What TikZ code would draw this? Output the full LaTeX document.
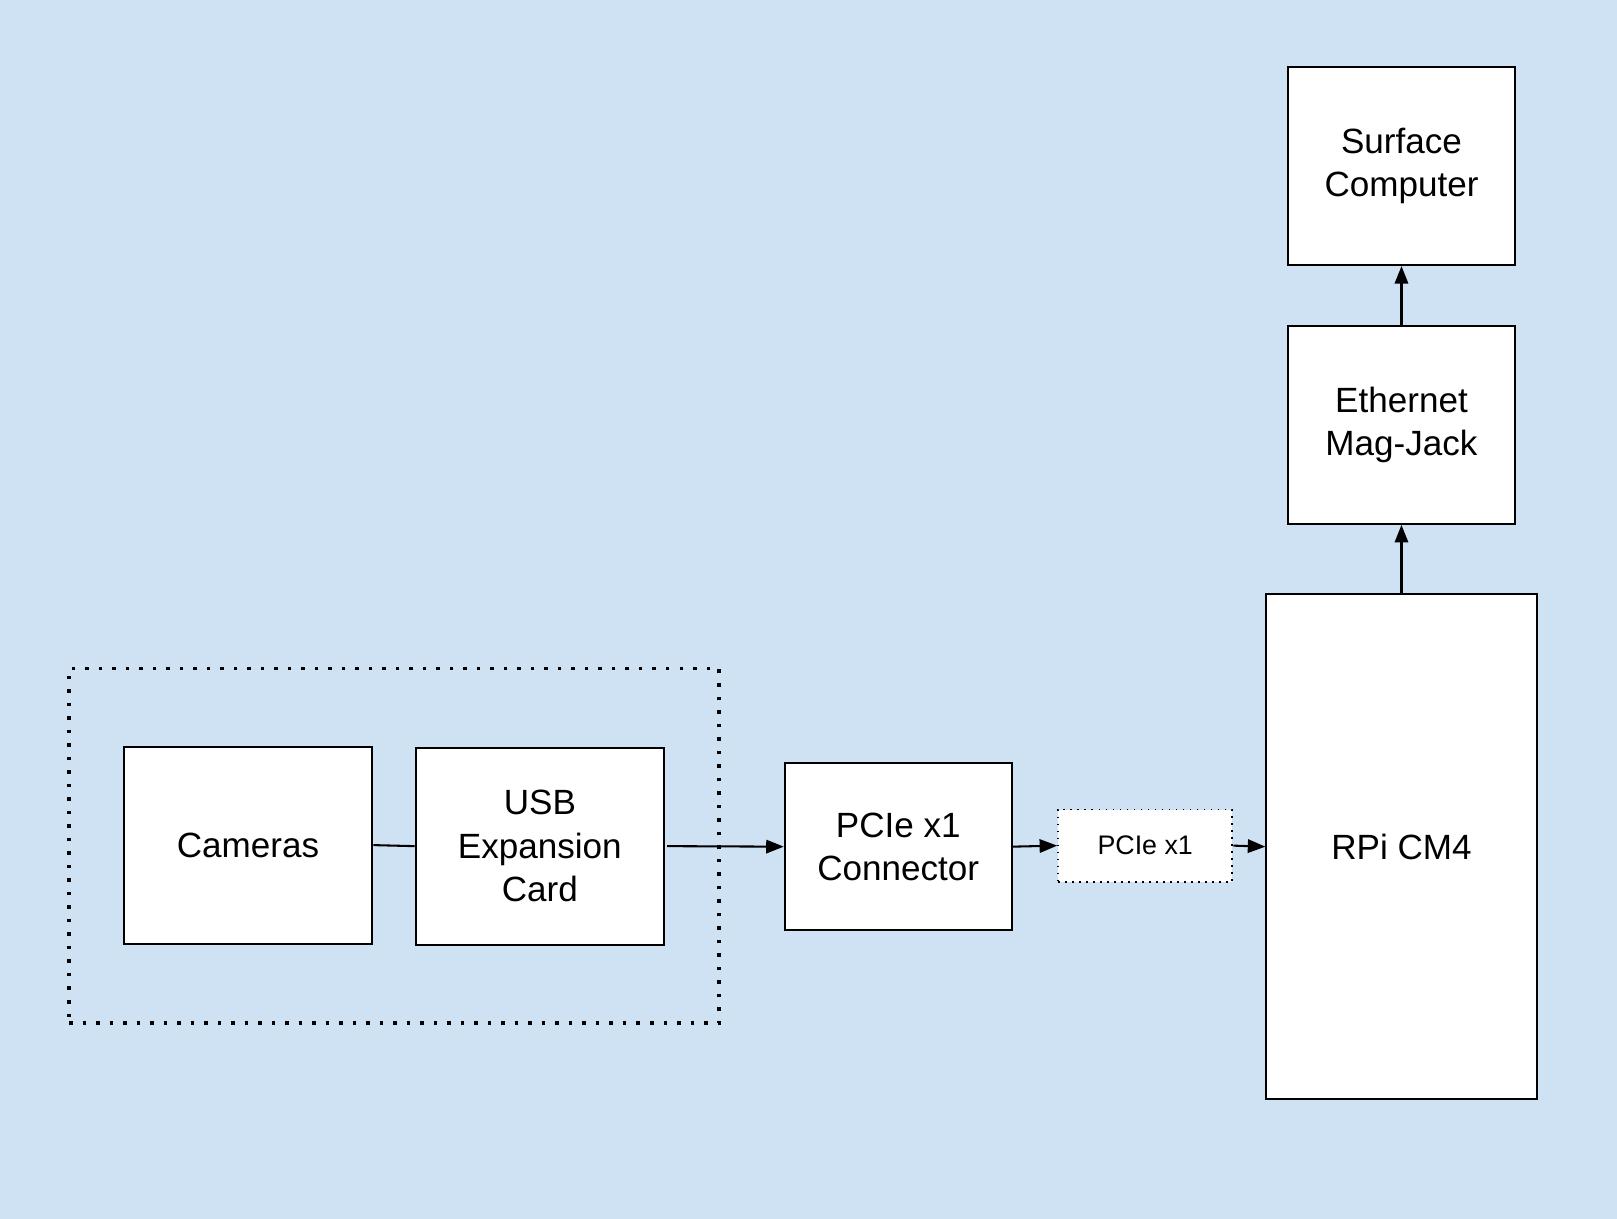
\documentclass[tikz,border=0pt]{standalone}
\usepackage{fontspec}
\setmainfont{Liberation Sans}
\usetikzlibrary{arrows.meta}
\definecolor{bgblue}{HTML}{CFE2F3}
\tikzset{
  blk/.style={draw=black, fill=white, line width=1pt, inner sep=0pt, align=center,
    font=\fontsize{17}{21}\selectfont},
  smallblk/.style={draw=black, fill=white, line width=0.9pt, inner sep=0pt, align=center,
    dash pattern=on 0.8pt off 2.6pt, font=\fontsize{13}{16}\selectfont},
  groupbox/.style={draw=black, line width=1.7pt, inner sep=0pt, dash pattern=on 1.7pt off 4.85pt},
  conn/.style={draw=black, line width=1pt},
  arr/.style={conn, -{Triangle[length=8.5pt,width=6.5pt]}}
}
\begin{document}
\begin{tikzpicture}[x=0.5pt, y=-0.5pt]
\fill[bgblue] (0,0) rectangle (1568,1182);
\useasboundingbox (0,0) rectangle (1568,1182);
\node[groupbox, minimum width=315pt, minimum height=172pt] (grp) at (382,820) {};
\node[blk, minimum width=120.5pt, minimum height=95.5pt] (cam) at (240.5,819.5) {Cameras};
\node[blk, minimum width=120.5pt, minimum height=95.5pt] (usb) at (523.5,820.5) {USB\\Expansion\\Card};
\node[blk, minimum width=110pt, minimum height=81pt] (pcon) at (871,821) {PCIe x1\\Connector};
\node[smallblk, minimum width=84.5pt, minimum height=35pt] (pcie) at (1110.5,820) {PCIe x1};
\node[blk, minimum width=131pt, minimum height=245pt] (rpi) at (1359,821) {RPi CM4};
\node[blk, minimum width=110pt, minimum height=96pt] (eth) at (1359,412) {Ethernet\\Mag-Jack};
\node[blk, minimum width=110pt, minimum height=96pt] (surf) at (1359,161) {Surface\\Computer};
\draw[conn] (cam.east) -- (usb.west);
\draw[arr] ([xshift=1pt]usb.east) -- (pcon.west);
\draw[arr] (pcon.east) -- (pcie.west);
\draw[arr] (pcie.east) -- (rpi.west);
\draw[arr] (rpi.north) -- (eth.south);
\draw[arr] (eth.north) -- (surf.south);
\end{tikzpicture}
\end{document}
